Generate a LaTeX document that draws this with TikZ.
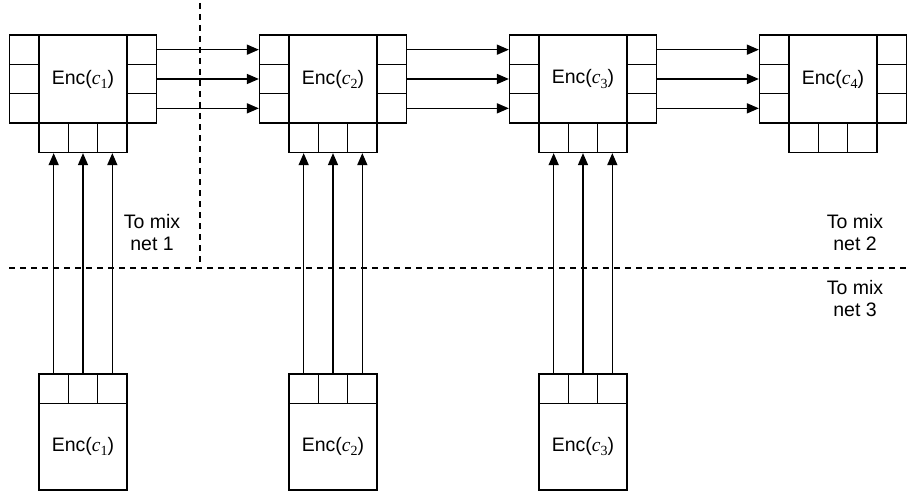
\documentclass[tikz,border=0pt]{standalone}
\usepackage{fontspec}
\setmainfont{Liberation Sans}
\newfontfamily\tmr{Liberation Serif}
\usetikzlibrary{arrows.meta}
\newcommand{\encl}[1]{Enc({\tmr\itshape c}\raisebox{-0.4ex}{\tmr\fontsize{14}{14}\selectfont #1})}
\tikzset{
  cell/.style={draw, minimum width=29.33pt, minimum height=29.33pt, inner sep=0pt, line width=1.6pt},
  mainbox/.style={draw, minimum width=88pt, minimum height=88pt, inner sep=0pt, line width=1.6pt, font=\fontsize{19.5}{22}\selectfont},
  lowbox/.style={draw, minimum width=88pt, minimum height=86.67pt, inner sep=0pt, line width=1.6pt, font=\fontsize{19.5}{22}\selectfont},
  link/.style={-{Triangle[length=12pt,width=10pt]}, line width=1.5pt},
  sepline/.style={dash pattern=on 6pt off 5pt, line width=1.4pt},
  lbl/.style={align=center, font=\fontsize{19.5}{22}\selectfont, inner sep=0pt}
}
\begin{document}
\begin{tikzpicture}[x=1pt, y=-1pt]
\useasboundingbox (0,0) rectangle (909,492);
% top row encoders
\foreach \k in {1,2,3,4}{
  \pgfmathsetmacro{\X}{250*(\k-1)}
  \node[mainbox] (t\k) at (83+\X,79) {\encl{\k}};
  \foreach \i in {1,2,3}{
    \pgfmathsetmacro{\Y}{49.67+29.33*(\i-1)}
    \pgfmathsetmacro{\XB}{53.67+29.33*(\i-1)+\X}
    \node[cell] (t\k L\i) at (24.33+\X,\Y) {};
    \node[cell] (t\k R\i) at (141.67+\X,\Y) {};
    \node[cell] (t\k B\i) at (\XB,137.67) {};
  }
}
% bottom row encoders
\foreach \k in {1,2,3}{
  \pgfmathsetmacro{\X}{250*(\k-1)}
  \node[lowbox] (b\k) at (83+\X,446.67) {\encl{\k}};
  \foreach \i in {1,2,3}{
    \pgfmathsetmacro{\XB}{53.67+29.33*(\i-1)+\X}
    \node[cell] (b\k T\i) at (\XB,388.67) {};
  }
}
% horizontal links
\foreach \k/\n in {1/2,2/3,3/4}{
  \foreach \i in {1,2,3}{
    \draw[link] (t\k R\i.east) -- (t\n L\i.west);
  }
}
% vertical links
\foreach \k in {1,2,3}{
  \foreach \i in {1,2,3}{
    \draw[link] (b\k T\i.north) -- (t\k B\i.south);
  }
}
% separators
\coordinate (v0) at (200,3);
\coordinate (v1) at (200,268);
\coordinate (h0) at (9,268);
\coordinate (h1) at (909,268);
\draw[sepline] (v0) -- (v1);
\draw[sepline] (h0) -- (h1);
% labels
\node[lbl] (n1) at (152,233) {To mix\\net 1};
\node[lbl] (n2) at (855,233) {To mix\\net 2};
\node[lbl] (n3) at (855,299) {To mix\\net 3};
\end{tikzpicture}
\end{document}
